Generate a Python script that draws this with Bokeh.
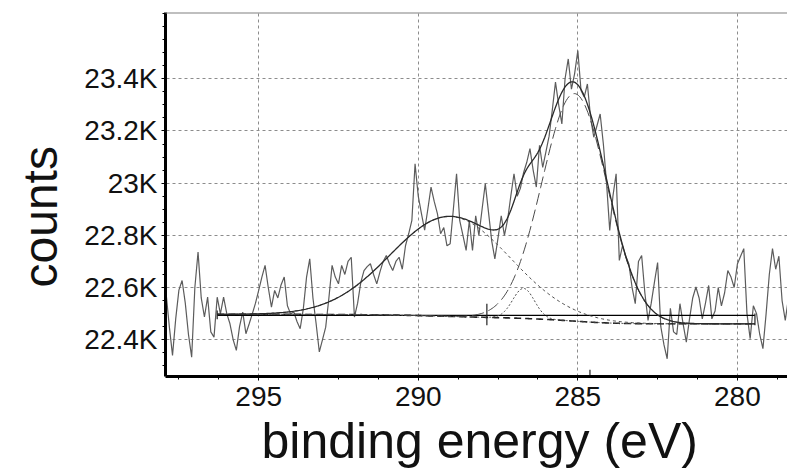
import numpy as np
from bokeh.plotting import figure
from bokeh.models import Range1d, FixedTicker, Span, Title
from bokeh.embed import file_html
from bokeh.resources import INLINE

# ---------------- data ----------------
E_START = 297.9          # binding energy of first measured point (eV)
E_STEP = 0.1             # measurement step (eV)
counts = [
    22576, 22450, 22340, 22480, 22590, 22627, 22540, 22420, 22333, 22600,
    22736, 22560, 22487, 22563, 22430, 22410, 22563, 22499, 22563, 22500,
    22461, 22400, 22359, 22450, 22506, 22423, 22460, 22499, 22540, 22589,
    22640, 22685, 22600, 22525, 22589, 22560, 22610, 22640, 22530, 22499,
    22506, 22470, 22442, 22520, 22640, 22710, 22560, 22461, 22353, 22400,
    22448, 22560, 22685, 22640, 22614, 22685, 22650, 22700, 22716, 22487,
    22540, 22620, 22665, 22680, 22691, 22650, 22614, 22660, 22700, 22723,
    22690, 22665, 22700, 22716, 22670, 22760, 22806, 22857, 23074, 22950,
    22883, 22820, 22900, 22985, 22930, 22883, 22806, 22830, 22760, 22768,
    22900, 23036, 22856, 22800, 22742, 22856, 22742, 22875, 22800, 22900,
    22998, 22890, 22780, 22710, 22790, 22875, 22800, 22860, 22950, 23036,
    22950, 22980, 23040, 23080, 23132, 23050, 22985, 23145, 23060, 23120,
    23180, 23280, 23387, 23300, 23227, 23400, 23476, 23360, 23420, 23508,
    23355, 23330, 23380, 23250, 23176, 23220, 23265, 23150, 23000, 22819,
    22950, 23036, 22704, 22760, 22720, 22690, 22600, 22538, 22700, 22723,
    22580, 22474, 22540, 22620, 22696, 22450, 22380, 22327, 22520, 22430,
    22420, 22538, 22460, 22391, 22480, 22560, 22602, 22560, 22480, 22540,
    22608, 22480, 22510, 22600, 22530, 22580, 22665, 22640, 22600, 22690,
    22720, 22749, 22500, 22404, 22530, 22500, 22420, 22366, 22500, 22650,
    22749, 22670, 22720, 22550, 22474, 22560,
]
energy = [round(E_START - E_STEP * i, 2) for i in range(len(counts))]

# peak-fit
fit_start, fit_end = 296.3, 279.45
peak_center = [289.0, 285.1, 286.7]
peak_height = [383, 872, 115]
peak_fwhm = [4.4, 2.4, 0.8]
shirley_left, shirley_right = 22497, 22461
linear_baseline = 22493

# region markers
marker_energy = [296.3, 287.85, 279.45, 284.62]
marker_low = [22478, 22455, 22455, 22259]
marker_high = [22512, 22538, 22500, 22285]

x_ticks = [295, 290, 285, 280]
y_ticks = [22400, 22600, 22800, 23000, 23200, 23400]
y_tick_labels = ["22.4K", "22.6K", "22.8K", "23K", "23.2K", "23.4K"]

x_title = "binding energy (eV)"
y_title = "counts"

# ---------------- fit curves ----------------
fe = np.linspace(fit_start, fit_end, 400)
comps = [h * np.exp(-4 * np.log(2) * ((fe - c) / w) ** 2)
         for c, h, w in zip(peak_center, peak_height, peak_fwhm)]
total = np.sum(comps, axis=0)
cum = np.cumsum(total[::-1])[::-1]
frac = (cum - cum[-1]) / (cum[0] - cum[-1])
bg = shirley_right + (shirley_left - shirley_right) * frac
envelope = bg + total

# ---------------- figure ----------------
p = figure(width=787, height=474, output_backend="svg", toolbar_location=None,
           x_range=Range1d(297.92, 278.43), y_range=Range1d(22259, 23654),
           min_border_left=165, min_border_right=0, min_border_top=12,
           min_border_bottom=98)
p.outline_line_color = None
p.background_fill_color = "white"
p.border_fill_color = "white"

FONT = "Liberation Sans"

p.xaxis.ticker = FixedTicker(ticks=x_ticks,
                             minor_ticks=[278.75 + 1.25 * k for k in range(16)])
p.yaxis.ticker = FixedTicker(ticks=y_ticks,
                             minor_ticks=[22300 + 50 * k for k in range(28)])
p.yaxis.major_label_overrides = {t: s for t, s in zip(y_ticks, y_tick_labels)}

for ax in (p.xaxis, p.yaxis):
    ax.axis_line_color = "black"
    ax.axis_line_width = 3
    ax.major_tick_line_color = "black"
    ax.minor_tick_line_color = "black"
    ax.major_tick_in = 0
    ax.major_tick_out = 4
    ax.minor_tick_in = 0
    ax.minor_tick_out = 3
    ax.major_label_text_font = FONT
    ax.major_label_text_font_size = "28px"
    ax.major_label_text_color = "#111111"
p.xaxis.major_label_standoff = 6
p.yaxis.major_label_standoff = 4

for g in (p.xgrid, p.ygrid):
    g.grid_line_color = "#8c8c8c"
    g.grid_line_dash = "3 3"
    g.grid_line_width = 1

p.add_layout(Span(location=23654, dimension="width", line_color="#808080",
                  line_width=2))

# measured spectrum
p.line(energy, counts, line_color="#5c5c5c", line_width=1.2)

# baselines
p.line([fit_start, fit_end], [linear_baseline, linear_baseline],
       line_color="black", line_width=1.2)
p.line(fe, bg, line_color="#222222", line_width=1.6, line_dash="7 4")

# components
p.line(fe, bg + comps[0], line_color="#4a4a4a", line_width=1, line_dash="3 3")
p.line(fe, bg + comps[1], line_color="#4a4a4a", line_width=1, line_dash="12 5")
p.line(fe, bg + comps[2], line_color="#4a4a4a", line_width=1, line_dash="2 2")

# envelope
p.line(fe, envelope, line_color="#2a2a2a", line_width=1.3)

# markers
p.segment(x0=marker_energy, y0=marker_low, x1=marker_energy, y1=marker_high,
          line_color="#222222", line_width=1.2)

# axis titles
p.add_layout(Title(text=x_title, align="left", offset=96, standoff=4,
                   text_font=FONT, text_font_size="50px",
                   text_font_style="normal", text_color="#111111"), "below")
p.add_layout(Title(text=y_title, align="left", offset=89, standoff=26,
                   vertical_align="top",
                   text_font=FONT, text_font_size="48px",
                   text_font_style="normal", text_color="#111111"), "left")

open("out.html", "w").write(file_html(p, INLINE))
